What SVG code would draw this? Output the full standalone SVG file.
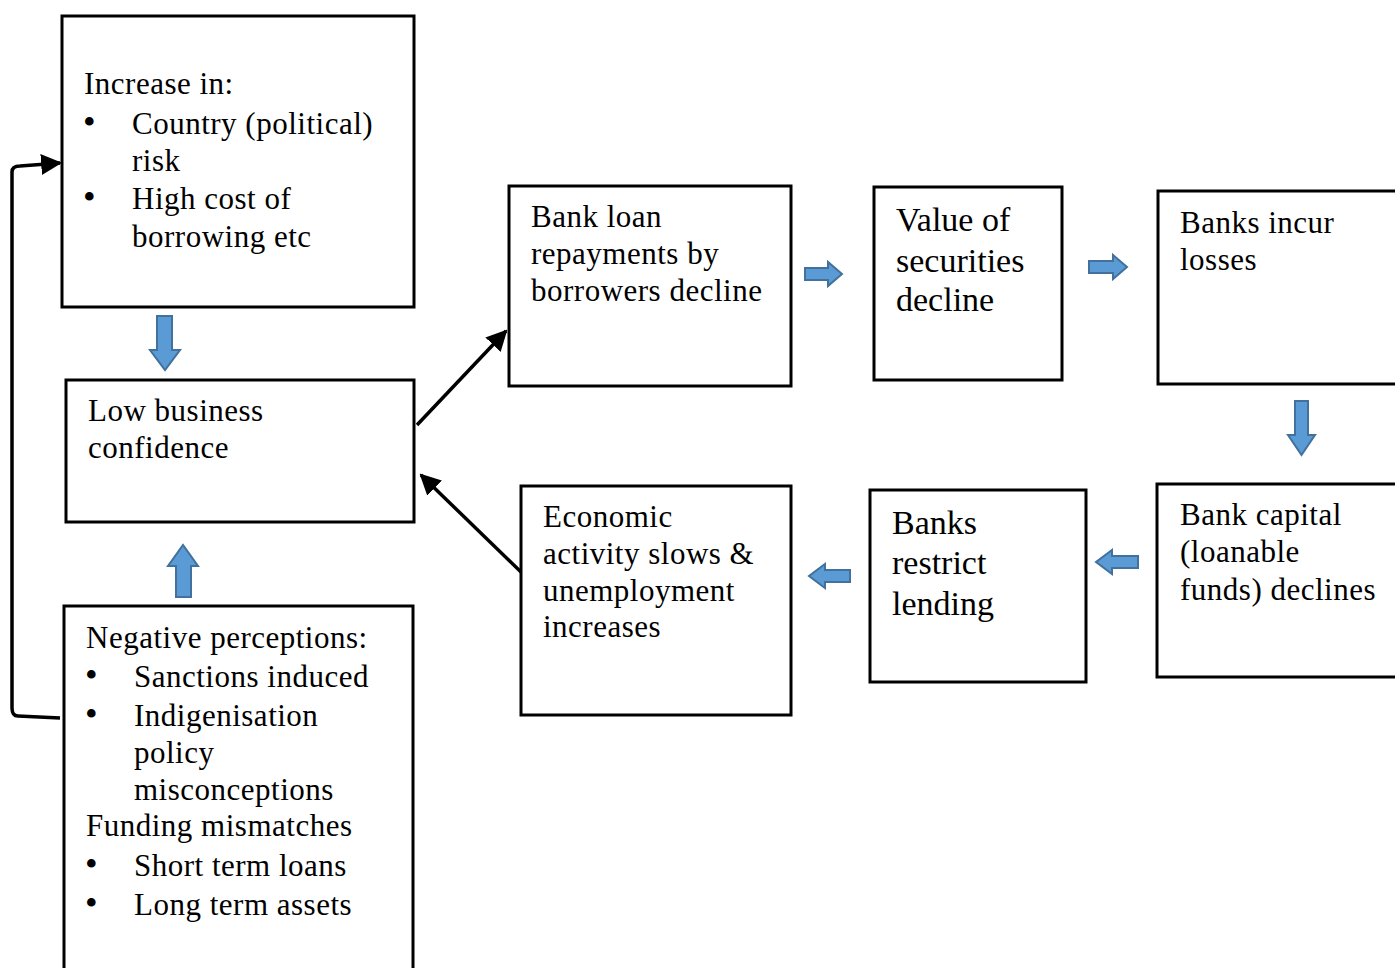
<svg xmlns="http://www.w3.org/2000/svg" width="1395" height="968" viewBox="0 0 1395 968">
<style>
.box{fill:#fff;stroke:#000;stroke-width:3}
.t{font-family:"Liberation Serif","Times New Roman",serif;font-size:31px;letter-spacing:0.5px;fill:#000}
.t2{font-family:"Liberation Serif","Times New Roman",serif;font-size:34px;fill:#000}
.b{font-family:"Liberation Serif","Times New Roman",serif;font-size:36px;fill:#000}
.ba{fill:#5b9bd5;stroke:#41719c;stroke-width:2}
.c{fill:none;stroke:#000;stroke-width:3.5}
</style>
<defs>
<marker id="ah" viewBox="0 0 10 10" refX="9" refY="5" markerWidth="6" markerHeight="6" markerUnits="strokeWidth" orient="auto">
<path d="M0,0 L10,5 L0,10 z" fill="#000"/>
</marker>
</defs>
<rect width="1395" height="968" fill="#fff"/>
<g id="connectors">
<path class="c" d="M60,718 L18,716 Q12,716 12,708 L12,172 Q12,166 20,166 L60,163" marker-end="url(#ah)"/>
<line class="c" x1="417" y1="425" x2="506" y2="331" marker-end="url(#ah)"/>
<line class="c" x1="521" y1="572" x2="421" y2="475" marker-end="url(#ah)"/>
<path class="ba" d="M157,316 L172,316 L172,350 L180,350 L165,370 L150,350 L157,350 z"/>
<path class="ba" d="M176,597 L191,597 L191,566 L198,566 L183,545 L168,566 L176,566 z"/>
<path class="ba" d="M805,268 L828,268 L828,262 L842,274 L828,286 L828,280 L805,280 z"/>
<path class="ba" d="M1089,261 L1113,261 L1113,255 L1127,267 L1113,279 L1113,273 L1089,273 z"/>
<path class="ba" d="M1295,401 L1308,401 L1308,435 L1315,435 L1301.5,455 L1288,435 L1295,435 z"/>
<path class="ba" d="M1138,556 L1112,556 L1112,550 L1096,562 L1112,574 L1112,568 L1138,568 z"/>
<path class="ba" d="M850,570 L825,570 L825,564 L809,576 L825,588 L825,582 L850,582 z"/>
</g>
<g id="n1">
<rect class="box" x="62" y="16" width="352" height="291"/>
<text class="t" x="84" y="94">Increase in:</text>
<text class="b" x="83" y="134">•</text>
<text class="t" x="132" y="134">Country (political)</text>
<text class="t" x="132" y="171">risk</text>
<text class="b" x="83" y="209">•</text>
<text class="t" x="132" y="209">High cost of</text>
<text class="t" x="132" y="247">borrowing etc</text>
</g>
<g id="n2">
<rect class="box" x="66" y="380" width="348" height="142"/>
<text class="t" x="88" y="421">Low business</text>
<text class="t" x="88" y="458">confidence</text>
</g>
<g id="n3">
<rect class="box" x="64" y="606" width="349" height="370"/>
<text class="t" x="86" y="648">Negative perceptions:</text>
<text class="b" x="85" y="687">•</text>
<text class="t" x="134" y="687">Sanctions induced</text>
<text class="b" x="85" y="726">•</text>
<text class="t" x="134" y="726">Indigenisation</text>
<text class="t" x="134" y="763">policy</text>
<text class="t" x="134" y="800">misconceptions</text>
<text class="t" x="86" y="836">Funding mismatches</text>
<text class="b" x="85" y="876">•</text>
<text class="t" x="134" y="876">Short term loans</text>
<text class="b" x="85" y="915">•</text>
<text class="t" x="134" y="915">Long term assets</text>
</g>
<g id="n4">
<rect class="box" x="509" y="186" width="282" height="200"/>
<text class="t" x="531" y="227">Bank loan</text>
<text class="t" x="531" y="264">repayments by</text>
<text class="t" x="531" y="301">borrowers decline</text>
</g>
<g id="n5">
<rect class="box" x="874" y="187" width="188" height="193"/>
<text class="t2" x="896" y="231">Value of</text>
<text class="t2" x="896" y="272">securities</text>
<text class="t2" x="896" y="311">decline</text>
</g>
<g id="n6">
<rect class="box" x="1158" y="191" width="250" height="193"/>
<text class="t" x="1180" y="233">Banks incur</text>
<text class="t" x="1180" y="270">losses</text>
</g>
<g id="n7">
<rect class="box" x="1157" y="484" width="250" height="193"/>
<text class="t" x="1180" y="525">Bank capital</text>
<text class="t" x="1180" y="562">(loanable</text>
<text class="t" x="1180" y="600">funds) declines</text>
</g>
<g id="n8">
<rect class="box" x="870" y="490" width="216" height="192"/>
<text class="t2" x="892" y="534">Banks</text>
<text class="t2" x="892" y="574">restrict</text>
<text class="t2" x="892" y="615">lending</text>
</g>
<g id="n9">
<rect class="box" x="521" y="486" width="270" height="229"/>
<text class="t" x="543" y="527">Economic</text>
<text class="t" x="543" y="564">activity slows &amp;</text>
<text class="t" x="543" y="601">unemployment</text>
<text class="t" x="543" y="637">increases</text>
</g>
</svg>
